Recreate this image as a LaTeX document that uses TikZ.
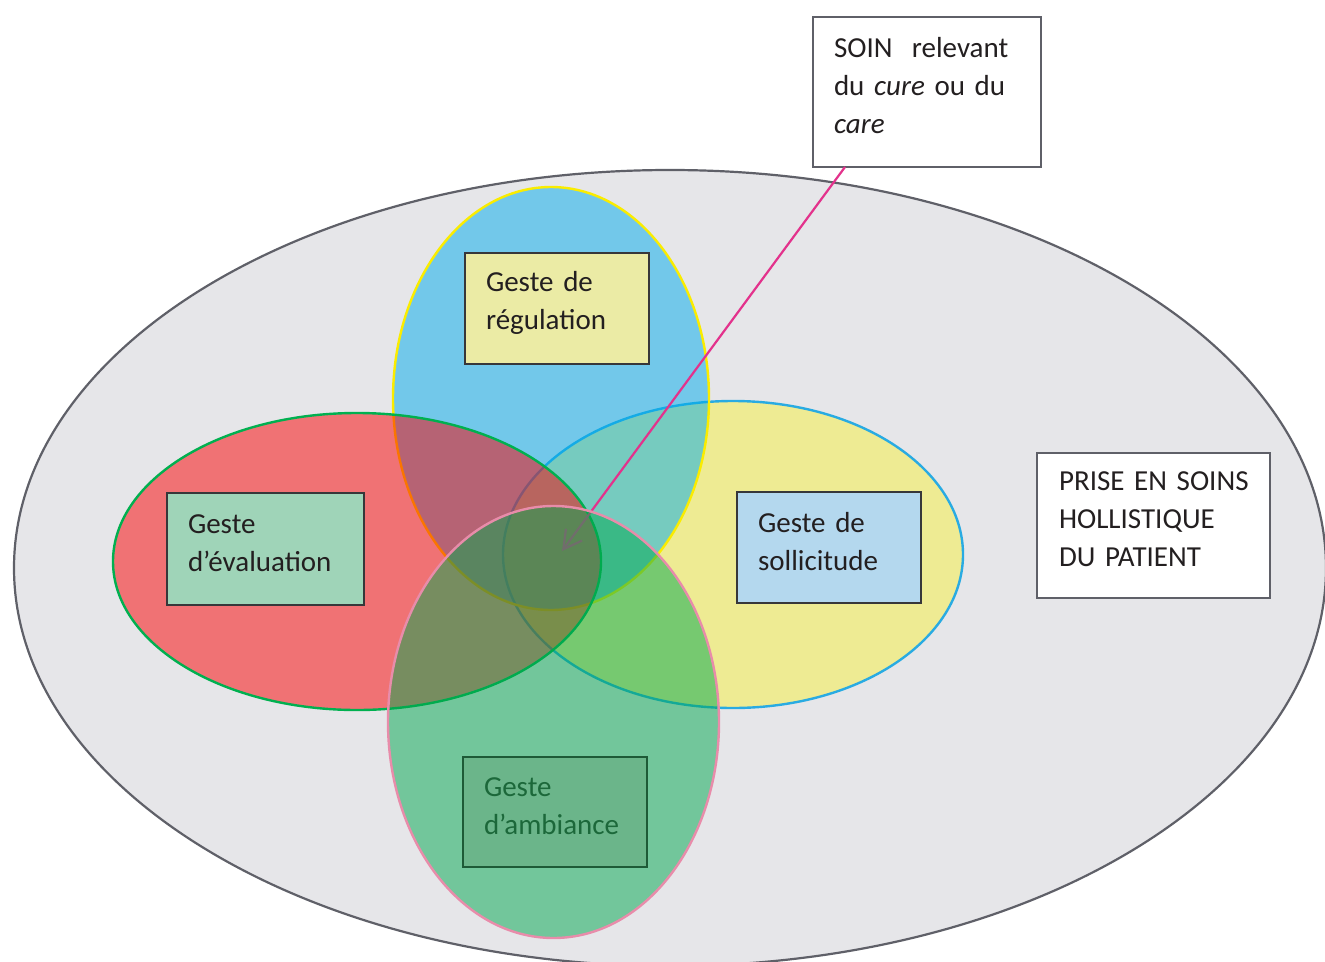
\documentclass[tikz,border=0pt]{standalone}
\usepackage{fontspec}
\setmainfont{Carlito}
\usetikzlibrary{arrows.meta}
\definecolor{bggrey}{RGB}{230,230,233}
\definecolor{bgline}{RGB}{95,96,104}
\definecolor{yelfill}{RGB}{238,235,147}
\definecolor{yelline}{RGB}{41,171,226}
\definecolor{bluefill}{RGB}{0,172,235}
\definecolor{blueline}{RGB}{250,236,0}
\definecolor{redfill}{RGB}{250,0,0}
\definecolor{redline}{RGB}{0,176,80}
\definecolor{grnfill}{RGB}{0,168,78}
\definecolor{grnline}{RGB}{232,140,170}
\definecolor{arrowpink}{RGB}{227,50,140}
\definecolor{textdark}{RGB}{35,31,32}
\definecolor{boxline}{RGB}{55,55,58}
\definecolor{regfill}{RGB}{235,235,165}
\definecolor{evalfill}{RGB}{159,212,184}
\definecolor{sollfill}{RGB}{180,216,238}
\definecolor{ambfill}{RGB}{107,181,138}
\definecolor{ambline}{RGB}{30,90,55}
\definecolor{ambtext}{RGB}{28,104,58}
\newcommand{\lift}{\par\vspace{12pt}}
\begin{document}
\begin{tikzpicture}[x=1pt,y=-1pt,
  every node/.style={font=\fontsize{29}{38}\selectfont},
  bigzone/.style={fill=bggrey, draw=bgline, line width=2.2pt},
  petal/.style={line width=2.4pt, fill opacity=0.5},
  box/.style={draw=boxline, line width=1.3pt, inner xsep=21pt, inner ysep=0pt,
    align=left, text=textdark, anchor=center},
  pointer/.style={draw=arrowpink, line width=2.2pt,
    -{Straight Barb[length=18pt,width=20pt,line width=2.2pt]}}
]
\useasboundingbox (0,0) rectangle (1325,961);
\fill[white] (0,0) rectangle (1325,961);
% overall care
\draw[bigzone] (670,568) ellipse [x radius=656, y radius=398];
% sollicitude (right)
\draw[line width=2.4pt, fill=yelfill, draw=yelline] (733,554.5) ellipse [x radius=230, y radius=153.5];
% regulation (top)
\draw[petal, fill=bluefill, draw=blueline] (551,398.5) ellipse [x radius=158, y radius=211.5];
% evaluation (left)
\draw[petal, fill=redfill, draw=redline] (357,561.5) ellipse [x radius=244, y radius=148.5];
% SOIN box and pointer
\node[box, fill=white, draw=bgline, minimum height=150pt, text width=186pt] (soin) at (927,92)
  {SOIN\ \ relevant\\du \textit{cure} ou du\\\textit{care}\lift};
\coordinate (soinfoot) at (845,167);
\coordinate (tip) at (562,551);
\draw[pointer] (soinfoot) -- (tip);
% ambiance (bottom)
\draw[petal, fill=grnfill, draw=grnline] (553.5,722) ellipse [x radius=165.5, y radius=216];
% labels
\node[box, fill=regfill, minimum height=111pt, text width=142pt] (reg) at (557,308.5)
  {Geste de\\régulation\lift};
\node[box, fill=evalfill, minimum height=112pt, text width=155pt] (eval) at (265.5,549)
  {Geste\\d’évaluation\lift};
\node[box, fill=sollfill, minimum height=111pt, text width=142pt] (soll) at (829,547.5)
  {Geste de\\sollicitude\lift};
\node[box, fill=ambfill, draw=ambline, text=ambtext, minimum height=110pt, text width=142pt] (amb) at (555,812)
  {Geste\\d’ambiance\lift};
\node[box, fill=white, draw=bgline, inner xsep=22pt, minimum height=145pt, text width=189pt] (prise) at (1153.5,525.5)
  {\mbox{PRISE EN SOINS}\\HOLLISTIQUE\\DU PATIENT\lift};
\end{tikzpicture}
\end{document}
